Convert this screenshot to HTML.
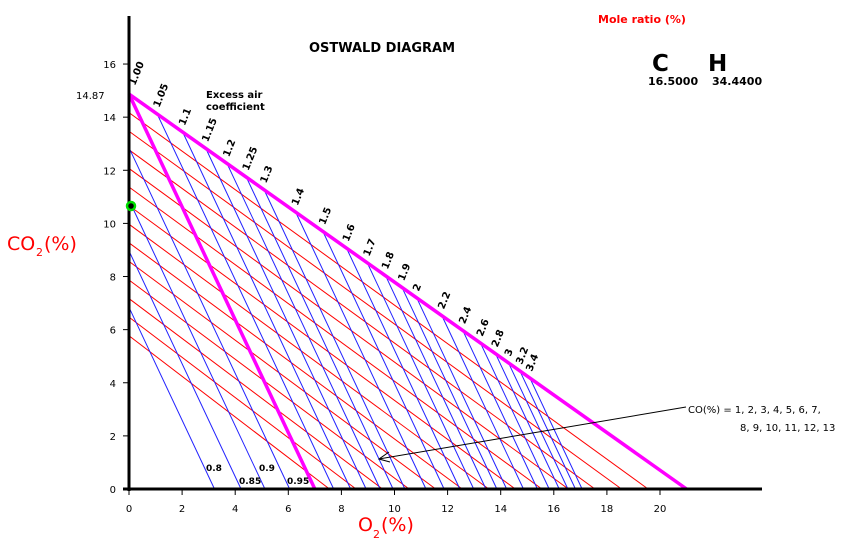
<!DOCTYPE html>
<html><head><meta charset="utf-8"><style>
html,body{margin:0;padding:0;background:#fff;}
svg{display:block;font-family:"DejaVu Sans","Liberation Sans",sans-serif;}
</style></head><body>
<svg id="s" width="843" height="556" viewBox="0 0 843 556" xmlns="http://www.w3.org/2000/svg">
<g id="g"></g>
<text x="382" y="52" font-size="13" font-weight="bold" text-anchor="middle">OSTWALD DIAGRAM</text>
<text x="206" y="98" font-size="10" font-weight="bold">Excess air</text>
<text x="206" y="110" font-size="10" font-weight="bold">coefficient</text>
<text x="76" y="99" font-size="10">14.87</text>
<text x="598" y="23" font-size="11" font-weight="bold" fill="#f00">Mole ratio (%)</text>
<text x="652" y="71" font-size="23" font-weight="bold">C</text>
<text x="708" y="71" font-size="23" font-weight="bold">H</text>
<text x="648" y="85" font-size="11" font-weight="bold">16.5000</text>
<text x="712" y="85" font-size="11" font-weight="bold">34.4400</text>
<text x="688" y="413" font-size="10">CO(%) = 1, 2, 3, 4, 5, 6, 7,</text>
<text x="740" y="431" font-size="10">8, 9, 10, 11, 12, 13</text>
<text x="7" y="250" font-size="19" fill="#f00">CO</text>
<text x="36" y="256" font-size="11" fill="#f00">2</text>
<text x="44" y="250" font-size="19" fill="#f00">(%)</text>
<text x="358" y="531" font-size="19" fill="#f00">O</text>
<text x="373" y="538" font-size="11" fill="#f00">2</text>
<text x="381" y="531" font-size="19" fill="#f00">(%)</text>
<text x="206" y="471" font-size="9" font-weight="bold">0.8</text>
<text x="239" y="484" font-size="9" font-weight="bold">0.85</text>
<text x="259" y="471" font-size="9" font-weight="bold">0.9</text>
<text x="287" y="484" font-size="9" font-weight="bold">0.95</text>
</svg>
<script>
var g=document.getElementById('g'),NS='http://www.w3.org/2000/svg';
function X(v){return 129+v*26.55;}function Y(v){return 489-v*26.56;}
function el(t,a,txt){var e=document.createElementNS(NS,t);for(var k in a)e.setAttribute(k,a[k]);if(txt!==undefined)e.textContent=txt;g.appendChild(e);return e;}
function L(x1,y1,x2,y2,c,w){el('line',{x1:X(x1),y1:Y(y1),x2:X(x2),y2:Y(y2),stroke:c,'stroke-width':w});}
var T=14.87,S=T/7;
for(var k=1;k<=13;k++)L(0,T-0.7*k,20.55-k,0,'#f00',1);
[3.22,4.22,5.12,6.05].forEach(function(x){L(0,x*S,x,0,'#22f',1);});
var lam=[1.05,1.1,1.15,1.2,1.25,1.3,1.4,1.5,1.6,1.7,1.8,1.9,2,2.2,2.4,2.6,2.8,3,3.2,3.4];
lam.forEach(function(l){var o=21*(l-1)/(l-0.062);var c=T*(1-o/21);L(o,c,o+c/S,0,'#22f',1);
 var px=X(o)+2,py=Y(c)-6;el('text',{x:px,y:py,'font-size':10,'font-weight':'bold',transform:'rotate(-68 '+px+' '+py+')'},String(l));});
L(0,T,21,0,'#f0f',3.5);L(0,T,7,0,'#f0f',3.5);
el('text',{x:X(0)+6,y:Y(T)-8,'font-size':10,'font-weight':'bold',transform:'rotate(-68 '+(X(0)+6)+' '+(Y(T)-8)+')'},'1.00');
el('line',{x1:129,y1:16,x2:129,y2:491,stroke:'#000','stroke-width':3});
el('line',{x1:123,y1:489,x2:762,y2:489,stroke:'#000','stroke-width':3});
for(var i=0;i<=20;i+=2){el('line',{x1:X(i),y1:489,x2:X(i),y2:495,stroke:'#000'});el('text',{x:X(i),y:512,'font-size':10,'text-anchor':'middle'},String(i));}
for(var i=0;i<=16;i+=2){el('line',{x1:123,y1:Y(i),x2:129,y2:Y(i),stroke:'#000'});el('text',{x:116,y:Y(i)+4,'font-size':10,'text-anchor':'end'},String(i));}
el('line',{x1:686,y1:407,x2:379,y2:459,stroke:'#000','stroke-width':1});
el('polyline',{points:'389,452 379,459 390,462',fill:'none',stroke:'#000'});
el('circle',{cx:131,cy:206,r:4,fill:'#000',stroke:'#0d0','stroke-width':2.5});
</script>
</body></html>
